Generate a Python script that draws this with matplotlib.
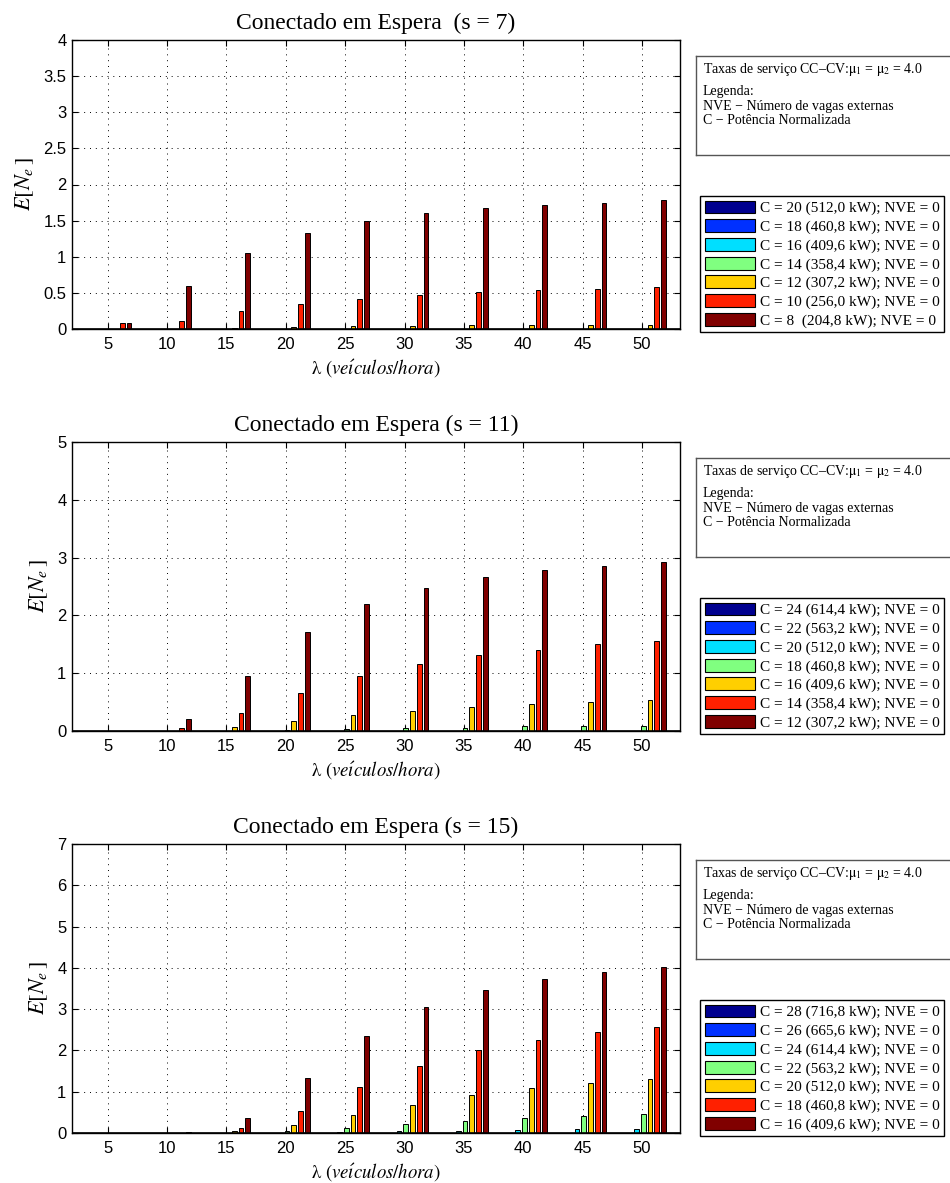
import matplotlib
matplotlib.use("Agg")
import matplotlib.pyplot as plt
from matplotlib.patches import Patch
import numpy as np

plt.rcParams["mathtext.fontset"] = "stix"
plt.rcParams["font.family"] = ["Liberation Serif", "DejaVu Serif"]

# Arrival rates (vehicles / hour)
lam = [5, 10, 15, 20, 25, 30, 35, 40, 45, 50]

# Bar colours (jet-like, 7 levels)
bar_colors = ["#00008f", "#0030ff", "#00dfff", "#80ff80", "#ffcf00", "#ff2000", "#800000"]

# ---- s = 7 ----
s7_labels = ["C = 20 (512,0 kW); NVE = 0", "C = 18 (460,8 kW); NVE = 0",
             "C = 16 (409,6 kW); NVE = 0", "C = 14 (358,4 kW); NVE = 0",
             "C = 12 (307,2 kW); NVE = 0", "C = 10 (256,0 kW); NVE = 0",
             "C = 8  (204,8 kW); NVE = 0"]
s7_c20 = [0, 0, 0, 0, 0, 0, 0, 0, 0, 0]
s7_c18 = [0, 0, 0, 0, 0, 0, 0, 0, 0, 0]
s7_c16 = [0, 0, 0, 0, 0, 0, 0, 0, 0, 0]
s7_c14 = [0, 0, 0, 0, 0, 0, 0, 0, 0, 0]
s7_c12 = [0, 0.005, 0.02, 0.03, 0.04, 0.04, 0.05, 0.05, 0.05, 0.05]
s7_c10 = [0.08, 0.11, 0.25, 0.35, 0.42, 0.47, 0.51, 0.54, 0.56, 0.58]
s7_c8 = [0.08, 0.59, 1.05, 1.33, 1.49, 1.60, 1.67, 1.72, 1.75, 1.78]

# ---- s = 11 ----
s11_labels = ["C = 24 (614,4 kW); NVE = 0", "C = 22 (563,2 kW); NVE = 0",
              "C = 20 (512,0 kW); NVE = 0", "C = 18 (460,8 kW); NVE = 0",
              "C = 16 (409,6 kW); NVE = 0", "C = 14 (358,4 kW); NVE = 0",
              "C = 12 (307,2 kW); NVE = 0"]
s11_c24 = [0, 0, 0, 0, 0, 0, 0, 0, 0, 0]
s11_c22 = [0, 0, 0, 0, 0, 0, 0, 0, 0, 0]
s11_c20 = [0, 0, 0, 0, 0, 0, 0.002, 0.003, 0.004, 0.005]
s11_c18 = [0, 0, 0.005, 0.02, 0.04, 0.05, 0.06, 0.08, 0.08, 0.09]
s11_c16 = [0, 0.005, 0.075, 0.17, 0.27, 0.35, 0.41, 0.46, 0.50, 0.53]
s11_c14 = [0, 0.06, 0.31, 0.66, 0.95, 1.16, 1.31, 1.41, 1.50, 1.56]
s11_c12 = [0, 0.21, 0.96, 1.71, 2.19, 2.48, 2.66, 2.78, 2.86, 2.93]

# ---- s = 15 ----
s15_labels = ["C = 28 (716,8 kW); NVE = 0", "C = 26 (665,6 kW); NVE = 0",
              "C = 24 (614,4 kW); NVE = 0", "C = 22 (563,2 kW); NVE = 0",
              "C = 20 (512,0 kW); NVE = 0", "C = 18 (460,8 kW); NVE = 0",
              "C = 16 (409,6 kW); NVE = 0"]
s15_c28 = [0, 0, 0, 0, 0, 0, 0, 0, 0, 0]
s15_c26 = [0, 0, 0, 0, 0, 0, 0.002, 0.004, 0.007, 0.01]
s15_c24 = [0, 0, 0, 0.005, 0.02, 0.04, 0.06, 0.07, 0.09, 0.10]
s15_c22 = [0, 0, 0.005, 0.05, 0.12, 0.21, 0.29, 0.36, 0.41, 0.46]
s15_c20 = [0, 0.002, 0.04, 0.19, 0.44, 0.69, 0.91, 1.08, 1.21, 1.31]
s15_c18 = [0, 0.01, 0.12, 0.53, 1.12, 1.63, 2.01, 2.26, 2.45, 2.57]
s15_c16 = [0, 0.03, 0.37, 1.33, 2.35, 3.05, 3.47, 3.72, 3.90, 4.03]

panels = [
    dict(title="Conectado em Espera  (s = 7)", labels=s7_labels,
         series=[s7_c20, s7_c18, s7_c16, s7_c14, s7_c12, s7_c10, s7_c8],
         ymax=4, yticks=[0, 0.5, 1, 1.5, 2, 2.5, 3, 3.5, 4],
         yticklabels=["0", "0.5", "1", "1.5", "2", "2.5", "3", "3.5", "4"], top=40),
    dict(title="Conectado em Espera (s = 11)", labels=s11_labels,
         series=[s11_c24, s11_c22, s11_c20, s11_c18, s11_c16, s11_c14, s11_c12],
         ymax=5, yticks=[0, 1, 2, 3, 4, 5],
         yticklabels=["0", "1", "2", "3", "4", "5"], top=442),
    dict(title="Conectado em Espera (s = 15)", labels=s15_labels,
         series=[s15_c28, s15_c26, s15_c24, s15_c22, s15_c20, s15_c18, s15_c16],
         ymax=7, yticks=[0, 1, 2, 3, 4, 5, 6, 7],
         yticklabels=["0", "1", "2", "3", "4", "5", "6", "7"], top=844),
]

W, H = 950, 1183
fig = plt.figure(figsize=(W / 100, H / 100), dpi=100)

ax_left, ax_right, ax_h = 72, 680, 289
bar_w = 0.40
step = 0.57
center_shift = 0.1
sans = ["Liberation Sans", "DejaVu Sans"]

info_title = "Taxas de servi\u00e7o CC\u2013CV:$\\mathrm{\\mu}_1$ = $\\mathrm{\\mu}_2$ = 4.0"
info_lines = ["Legenda:", "NVE \u2212 N\u00famero de vagas externas",
              "C \u2212 Pot\u00eancia Normalizada"]

for p in panels:
    top = p["top"]
    ax = fig.add_axes([ax_left / W, 1 - (top + ax_h) / H,
                       (ax_right - ax_left) / W, ax_h / H])
    x = np.array(lam, dtype=float)
    for i, (vals, col) in enumerate(zip(p["series"], bar_colors)):
        off = center_shift + (i - 3) * step
        ax.bar(x + off, vals, width=bar_w, color=col, edgecolor="black",
               linewidth=0.7, zorder=3)
    ax.axhline(0, color="black", lw=1.2, zorder=4)
    ax.set_xlim(2.0, 53.2)
    ax.set_ylim(0, p["ymax"])
    ax.set_xticks(lam)
    ax.set_xticklabels([str(v) for v in lam], fontfamily=sans, fontsize=12)
    ax.set_yticks(p["yticks"])
    ax.set_yticklabels(p["yticklabels"], fontfamily=sans, fontsize=12)
    ax.tick_params(axis="x", direction="in", top=True, length=4, width=0.8, pad=6)
    ax.tick_params(axis="y", direction="in", right=True, length=4, width=0.8, pad=4)
    ax.grid(True, linestyle=(0, (1, 5)), color="black", linewidth=0.7, zorder=0)
    for sp in ax.spines.values():
        sp.set_linewidth(1.0)
    ax.set_title(p["title"], fontsize=17, pad=8)
    ax.set_xlabel(r"$\mathrm{\lambda}$ $\mathit{(ve\acute{\imath}culos/hora)}$",
                  fontsize=13.5, labelpad=3.5)
    ax.set_ylabel(r"$E[N_{e}\,]$", fontsize=16, labelpad=5)

    # information box
    bh = 99
    bw = 960 - 696
    bx = fig.add_axes([696 / W, 1 - (top + 16 + bh) / H, bw / W, bh / H])
    bx.set_xticks([])
    bx.set_yticks([])
    for sp in bx.spines.values():
        sp.set_edgecolor("#555555")
        sp.set_linewidth(1.0)
    bx.text(7 / bw, 1 - 14 / bh, info_title, transform=bx.transAxes,
            fontsize=10, va="center", ha="left")
    for j, line in enumerate(info_lines):
        bx.text(7 / bw, 1 - (36 + 14.5 * j) / bh, line, transform=bx.transAxes,
                fontsize=10, va="center", ha="left")

    handles = [Patch(facecolor=c, edgecolor="black", linewidth=0.8) for c in bar_colors]
    leg = ax.legend(handles, p["labels"], loc="upper left",
                    bbox_to_anchor=(700 / W, 1 - (top + 156) / H),
                    bbox_transform=fig.transFigure, frameon=True, fancybox=False,
                    edgecolor="black", framealpha=1, fontsize=11,
                    handlelength=3.3, handleheight=0.92, labelspacing=0.25,
                    borderpad=0.3, handletextpad=0.3, borderaxespad=0)
    leg.get_frame().set_linewidth(1.0)

fig.savefig("out.png", dpi=100)
